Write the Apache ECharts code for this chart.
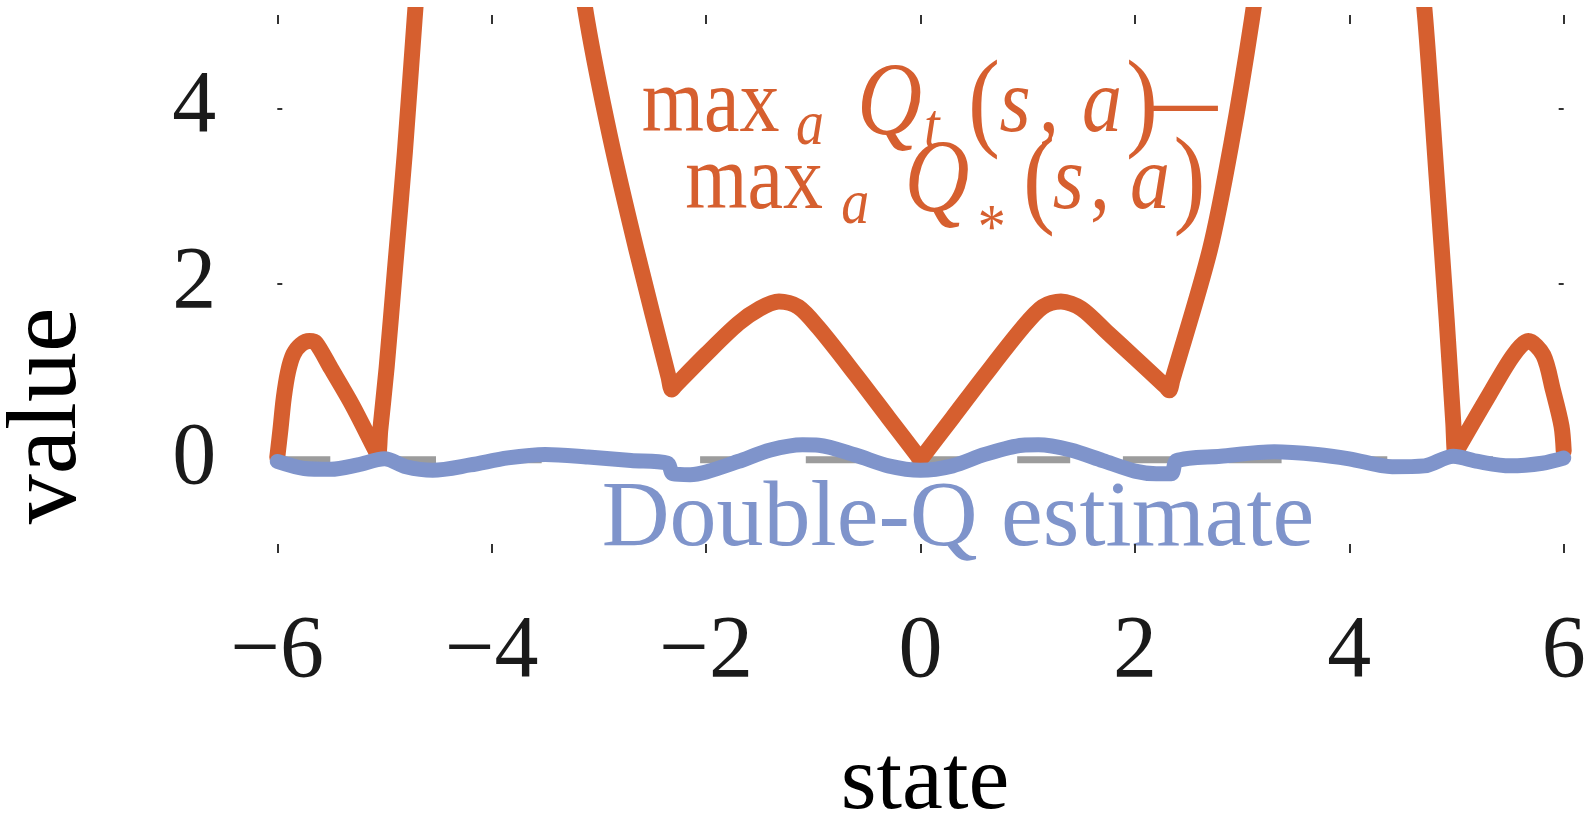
<!DOCTYPE html>
<html>
<head>
<meta charset="utf-8">
<script src="https://cdn.jsdelivr.net/npm/echarts@6/dist/echarts.min.js"></script>
<style>
html,body{margin:0;padding:0;background:#fff;}
#chart{width:1589px;height:822px;}
</style>
</head>
<body>
<div id="chart"></div>
<script>
// ---------------- data ----------------
const xTickValues = [-6, -4, -2, 0, 2, 4, 6];
const xTickLabels = ['\u22126', '\u22124', '\u22122', '0', '2', '4', '6'];
const yTickValues = [0, 2, 4];

// max_a Q_t(s,a) - max_a Q_*(s,a)
const orangeState = [-6.0,-5.97,-5.94,-5.90,-5.85,-5.78,-5.70,-5.64,-5.50,-5.30,-5.09,-5.06,-5.04,-4.98,-4.90,-4.81,-4.72,-4.60,-4.20,-3.60,-3.25,-3.11,-2.90,-2.65,-2.35,-2.32,-2.29,-2.0,-1.7,-1.5,-1.32,-1.14,-0.95,-0.6,-0.3,-0.03,0.0,0.03,0.3,0.6,0.95,1.14,1.31,1.5,1.75,2.0,2.29,2.32,2.35,2.70,2.90,3.09,3.25,3.70,4.30,4.60,4.71,4.815,4.908,4.97,4.99,5.02,5.31,5.53,5.67,5.81,5.90,5.98,6.0];
const orangeValue = [0.03,0.35,0.7,1.0,1.2,1.31,1.35,1.33,1.04,0.62,0.12,0.05,0.33,1.05,2.2,3.5,5.0,6.9,11,9.5,6.2,5.0,3.7,2.39,0.94,0.80,0.84,1.2,1.55,1.72,1.80,1.74,1.50,0.96,0.48,0.05,0.01,0.05,0.48,0.96,1.50,1.74,1.80,1.72,1.44,1.16,0.83,0.79,0.91,2.39,3.6,5.0,6.4,10,10,6.4,5.0,3.21,1.6,0.42,0.06,0.14,0.75,1.19,1.35,1.19,0.79,0.38,0.1];

// Double-Q estimate
const blueState = [-6.0,-5.75,-5.5,-5.25,-5.0,-4.8,-4.55,-4.2,-3.85,-3.5,-3.1,-2.7,-2.36,-2.31,-2.15,-2.0,-1.7,-1.4,-1.1,-0.95,-0.6,-0.3,0.0,0.3,0.6,0.95,1.1,1.4,1.7,2.0,2.2,2.34,2.39,2.8,3.3,3.7,4.0,4.4,4.7,4.97,5.2,5.5,5.8,6.0];
const blueValue = [-0.02,-0.10,-0.11,-0.06,0.01,-0.08,-0.12,-0.06,0.02,0.06,0.03,-0.01,-0.04,-0.16,-0.17,-0.14,-0.02,0.11,0.17,0.165,0.05,-0.07,-0.12,-0.07,0.06,0.165,0.17,0.11,-0.01,-0.13,-0.16,-0.16,-0.01,0.04,0.09,0.06,0.01,-0.08,-0.07,0.04,-0.02,-0.07,-0.04,0.02];

// zero reference line
const zeroState = [-6, 6];
const zeroValue = [0, 0];

// ---------------- styling ----------------
const SERIF = "'Liberation Serif','Times New Roman',serif";
const ORANGE = '#d65f2f';
const BLUE = '#7f94cb';
const GRAY = '#9c9c9c';
const INK = '#1a1a1a';

function zip(a, b) { return a.map((v, i) => [v, b[i]]); }

// rich text for the orange math annotation
function richLine(tokens) {
  const rich = {};
  let text = '';
  tokens.forEach((t, i) => {
    const name = 'k' + i;
    const st = {
      fontSize: t.fs,
      fontFamily: SERIF,
      fontStyle: t.it ? 'italic' : 'normal',
      fontWeight: t.bold ? 'bold' : 'normal',
      fill: ORANGE,
      width: t.w
    };
    if (t.pad != null) {
      st.verticalAlign = 'top';
      st.height = t.fs;
      st.lineHeight = 10;
      st.padding = [t.pad, 0, 0, 0];
    } else {
      st.lineHeight = 116;
    }
    rich[name] = st;
    text += '{' + name + '|' + t.s + '}';
  });
  return { text, rich };
}

const line1 = richLine([
  { s: 'max', fs: 80, w: 154.3 },
  { s: 'a', fs: 56, it: true, w: 61, pad: 48 },
  { s: 'Q', fs: 90, it: true, w: 67 },
  { s: 't', fs: 56, it: true, w: 44, pad: 50 },
  { s: '(', fs: 96, w: 31.4 },
  { s: 's', fs: 80, it: true, w: 39.6 },
  { s: ',', fs: 80, w: 43 },
  { s: 'a', fs: 80, it: true, w: 44 },
  { s: ')', fs: 96, w: 27.6 },
  { s: '\u2014', fs: 64, w: 63.4, bold: true }
]);
const line2 = richLine([
  { s: 'max', fs: 80, w: 156.1 },
  { s: 'a', fs: 56, it: true, w: 63.3, pad: 49 },
  { s: 'Q', fs: 90, it: true, w: 73.1 },
  { s: '*', fs: 56, w: 45.3, pad: 71 },
  { s: '(', fs: 96, w: 29.8 },
  { s: 's', fs: 80, it: true, w: 37.2 },
  { s: ',', fs: 80, w: 39.9 },
  { s: 'a', fs: 80, it: true, w: 43.5 },
  { s: ')', fs: 96, w: 24 }
]);

const tickStyle = { color: '#333', width: 2 };

const chart = echarts.init(document.getElementById('chart'), null, { renderer: 'canvas' });

const option = {
  backgroundColor: '#ffffff',
  animation: false,
  grid: { left: 277.3, right: 25.3, top: 15, bottom: 269, containLabel: false },
  xAxis: [
    {
      type: 'value', min: -6, max: 6, interval: 2, position: 'bottom',
      axisLine: { show: false, onZero: false }, splitLine: { show: false },
      axisTick: { show: true, inside: true, length: 9, lineStyle: tickStyle },
      axisLabel: {
        show: true, margin: 56, fontSize: 88, fontFamily: SERIF, color: INK,
        formatter: v => xTickLabels[xTickValues.indexOf(v)]
      }
    },
    {
      type: 'value', min: -6, max: 6, interval: 2, position: 'top',
      axisLine: { show: false, onZero: false }, splitLine: { show: false },
      axisTick: { show: true, inside: true, length: 9, lineStyle: tickStyle },
      axisLabel: { show: false }
    }
  ],
  yAxis: [
    {
      type: 'value', min: -1.062, max: 5.062, position: 'left',
      axisLine: { show: false, onZero: false }, splitLine: { show: false },
      axisTick: { show: true, inside: true, length: 5, lineStyle: tickStyle, customValues: yTickValues },
      axisLabel: {
        show: true, customValues: yTickValues, margin: 61, fontSize: 88, fontFamily: SERIF, color: INK,
        padding: [0, 0, 12, 0]
      }
    },
    {
      type: 'value', min: -1.062, max: 5.062, position: 'right',
      axisLine: { show: false, onZero: false }, splitLine: { show: false },
      axisTick: { show: true, inside: true, length: 5, lineStyle: tickStyle, customValues: yTickValues },
      axisLabel: { show: false }
    }
  ],
  series: [
    {
      type: 'line', name: 'zero', xAxisIndex: 0, yAxisIndex: 0,
      data: zip(zeroState, zeroValue), showSymbol: false, silent: true, z: 1,
      lineStyle: { color: GRAY, width: 7, type: [53, 52.7], cap: 'butt' }
    },
    {
      type: 'line', name: 'maxdiff', xAxisIndex: 0, yAxisIndex: 0,
      data: zip(orangeState, orangeValue), showSymbol: false, silent: true, z: 2,
      smooth: 0.3,
      lineStyle: { color: ORANGE, width: 16, cap: 'round', join: 'round' }
    },
    {
      type: 'line', name: 'doubleQ', xAxisIndex: 0, yAxisIndex: 0,
      data: zip(blueState, blueValue), showSymbol: false, silent: true, z: 3,
      smooth: 0.3,
      lineStyle: { color: BLUE, width: 15, cap: 'round', join: 'round' }
    }
  ],
  graphic: [
    {
      type: 'text', x: 48.5, y: 416, rotation: Math.PI / 2, silent: true,
      style: { text: 'value', fontSize: 100, fontFamily: SERIF, fill: '#000', align: 'center', verticalAlign: 'middle' }
    },
    {
      type: 'text', x: 925, y: 784, silent: true,
      style: { text: 'state', fontSize: 92, fontFamily: SERIF, fill: '#000', align: 'center', verticalAlign: 'middle' }
    },
    {
      type: 'text', x: 958, y: 520, silent: true,
      style: { text: 'Double-Q estimate', fontSize: 94, fontFamily: SERIF, fill: BLUE, align: 'center', verticalAlign: 'middle' }
    },
    {
      type: 'text', x: 641.7, y: 131.7 - 97.75 + 6, scaleY: 1.15, silent: true,
      style: { text: line1.text, rich: line1.rich, align: 'left', verticalAlign: 'top', fill: ORANGE, fontFamily: SERIF, fontSize: 80 }
    },
    {
      type: 'text', x: 685.2, y: 209 - 97.75 + 6, scaleY: 1.15, silent: true,
      style: { text: line2.text, rich: line2.rich, align: 'left', verticalAlign: 'top', fill: ORANGE, fontFamily: SERIF, fontSize: 80 }
    }
  ]
};

chart.setOption(option);
</script>
</body>
</html>
